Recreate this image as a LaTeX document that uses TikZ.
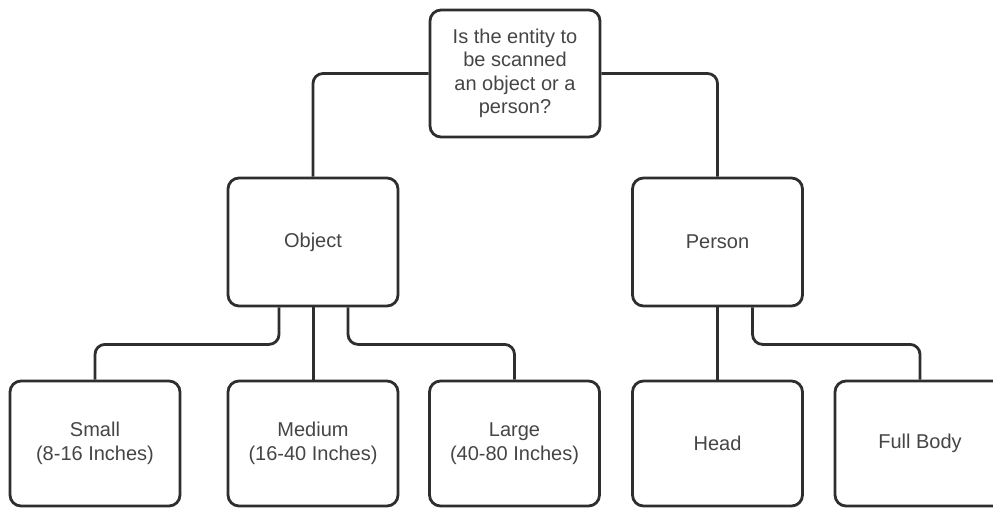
\documentclass[tikz,border=0pt]{standalone}
\usepackage{fontspec}
\setmainfont{Liberation Sans}
\definecolor{linec}{HTML}{2E2E2E}
\definecolor{textc}{HTML}{454545}
\begin{document}
\begin{tikzpicture}[x=1pt,y=-1pt,
  box/.style={draw=linec, line width=2.8pt, rounded corners=11pt, fill=white,
    minimum width=170pt, text=textc, align=center,
    font=\fontsize{20pt}{23.5pt}\selectfont, inner sep=0pt},
  link/.style={draw=linec, line width=2.8pt, rounded corners=10pt}]
\clip (0,0) rectangle (993,507);
\fill[white] (0,0) rectangle (993,507);
\node[box, minimum height=127pt] (top) at (515,73.5) {Is the entity to\\be scanned\\an object or a\\person?};
\node[box, minimum height=128pt] (obj) at (313,242) {Object};
\node[box, minimum height=128pt] (per) at (717.5,242) {Person};
\node[box, minimum height=125pt] (small) at (95,443.5) {Small\\(8-16 Inches)};
\node[box, minimum height=125pt] (med) at (313,443.5) {Medium\\(16-40 Inches)};
\node[box, minimum height=125pt] (large) at (514.5,443.5) {Large\\(40-80 Inches)};
\node[box, minimum height=125pt] (head) at (717.5,443.5) {Head};
\node[box, minimum height=125pt] (full) at (920,443.5) {Full Body};
\draw[link] (top.west) -| (obj.north);
\draw[link] (top.east) -| (per.north);
\draw[link] ([xshift=-34pt]obj.south) -- ++(0,37) -| (small.north);
\draw[link] ([xshift=0.3pt]obj.south) -- ([xshift=0.3pt]med.north);
\draw[link] ([xshift=35pt]obj.south) -- ++(0,37) -| (large.north);
\draw[link] (per.south) -- (head.north);
\draw[link] ([xshift=35pt]per.south) -- ++(0,37) -| (full.north);
\end{tikzpicture}
\end{document}
